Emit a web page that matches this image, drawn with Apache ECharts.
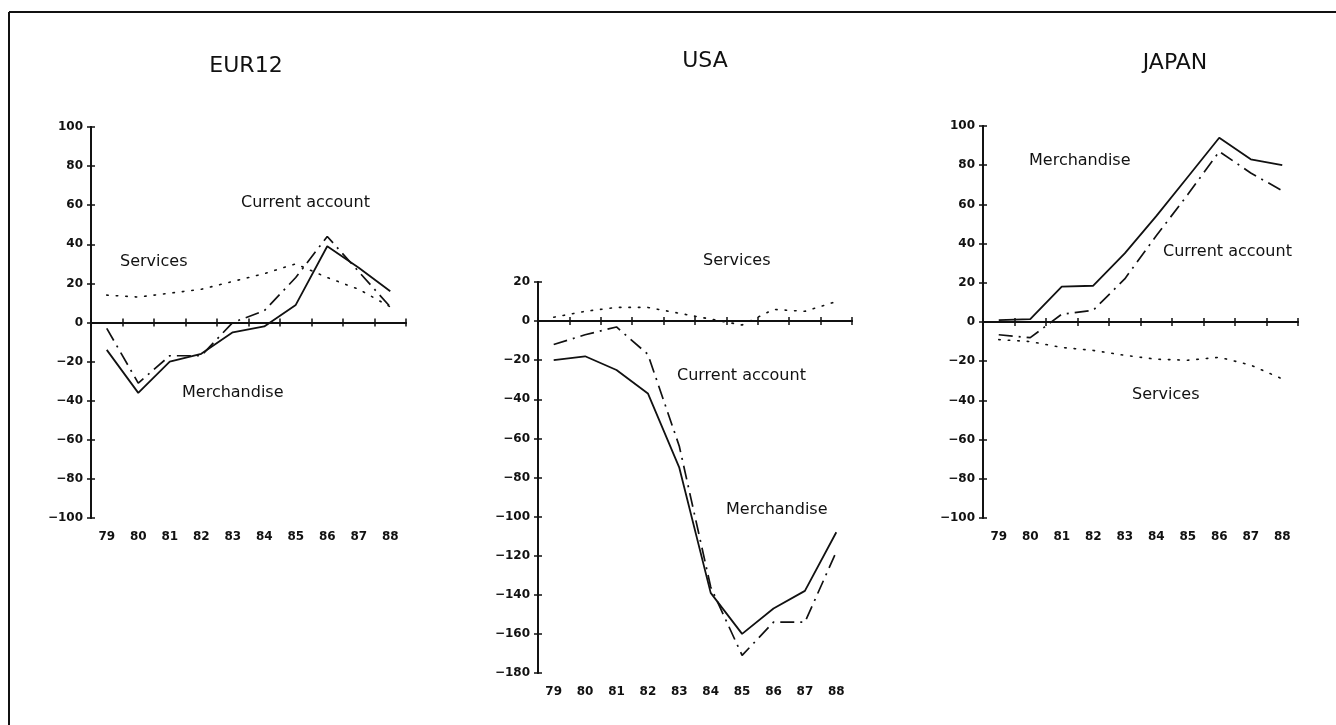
<!DOCTYPE html>
<html>
<head>
<meta charset="utf-8">
<script src="https://cdn.jsdelivr.net/npm/echarts@6/dist/echarts.min.js"></script>
<style>
html,body{margin:0;padding:0;background:#fff;}
#chart{width:1336px;height:725px;}
</style>
</head>
<body>
<div id="chart"></div>
<script>
// ---- data ----
const years = ['79','80','81','82','83','84','85','86','87','88'];

const eurMerchandise = [-14, -36, -20, -16, -5, -2, 9, 39, 28, 16];
const eurCurrent     = [-3, -31, -17, -17, 0, 6, 23, 44, 26, 8];
const eurServices    = [14, 13, 15, 17, 21, 25, 30, 23, 17, 8];

const usaMerchandise = [-20, -18, -25, -37, -75, -139, -160, -147, -138, -108];
const usaCurrent     = [-12, -7, -3, -17, -64, -136, -171, -154, -154, -118];
const usaServices    = [2, 5, 7, 7, 4, 1, -2, 6, 5, 10];

const jpnMerchandise = [1, 1.5, 18, 18.5, 35, 54, 74, 94, 83, 80];
const jpnCurrent     = [-6.5, -8, 4, 6, 22, 44, 65, 87, 76, 67];
const jpnServices    = [-9, -10, -13, -14.5, -17, -19, -19.5, -18, -22, -29];

const panelTitles = ['EUR12', 'USA', 'JAPAN'];
const eurTicks = {min: -100, max: 100, interval: 20};
const usaTicks = {min: -180, max: 20, interval: 20};
const jpnTicks = {min: -100, max: 100, interval: 20};

// ---- layout / styles ----
const FONT = '"DejaVu Sans", sans-serif';
const INK = '#111';
const grids = [
  {left: 91,  top: 127, width: 315, height: 391},
  {left: 538, top: 282, width: 314, height: 391},
  {left: 983, top: 126, width: 315, height: 392}
];
const scales = [eurTicks, usaTicks, jpnTicks];
const panels = [
  [eurMerchandise, eurCurrent, eurServices],
  [usaMerchandise, usaCurrent, usaServices],
  [jpnMerchandise, jpnCurrent, jpnServices]
];

const xAxes = [], yAxes = [], series = [];
const AXW = 1.8, TL = 4;
grids.forEach((g, i) => {
  const s = scales[i];
  xAxes.push({
    type: 'category', gridIndex: i, data: years, position: 'bottom',
    axisLine: {onZero: true, lineStyle: {color: INK, width: AXW}},
    axisTick: {show: true, inside: true, length: TL, lineStyle: {color: INK, width: 1.5}},
    axisLabel: {show: false}, splitLine: {show: false}
  });
  xAxes.push({
    type: 'category', gridIndex: i, data: years, position: 'bottom',
    axisLine: {onZero: true, lineStyle: {color: INK, width: AXW}},
    axisTick: {show: true, inside: false, length: TL, lineStyle: {color: INK, width: 1.5}},
    axisLabel: {show: false}, splitLine: {show: false}
  });
  xAxes.push({
    type: 'category', gridIndex: i, data: years, position: 'bottom',
    axisLine: {show: false, onZero: false}, axisTick: {show: false},
    axisLabel: {show: true, margin: 13, color: INK, fontFamily: FONT, fontSize: 12, fontWeight: 'bold'},
    splitLine: {show: false}
  });
  yAxes.push({
    type: 'value', gridIndex: i, position: 'left', min: s.min, max: s.max, interval: s.interval,
    axisLine: {show: true, onZero: false, lineStyle: {color: INK, width: AXW}},
    axisTick: {show: true, inside: false, length: TL, lineStyle: {color: INK, width: 1.5}},
    axisLabel: {show: true, margin: 8, color: INK, fontFamily: FONT, fontSize: 12, fontWeight: 'bold',
      formatter: v => (v < 0 ? '\u2212' + Math.abs(v) : String(v))},
    splitLine: {show: false}
  });
  yAxes.push({
    type: 'value', gridIndex: i, position: 'left', min: s.min, max: s.max, interval: s.interval,
    axisLine: {show: true, onZero: false, lineStyle: {color: INK, width: AXW}},
    axisTick: {show: true, inside: true, length: TL, lineStyle: {color: INK, width: 1.5}},
    axisLabel: {show: false}, splitLine: {show: false}
  });
  const [m, c, sv] = panels[i];
  const common = {type: 'line', xAxisIndex: i * 3, yAxisIndex: i * 2, symbol: 'none',
    silent: true, animation: false, z: 3};
  series.push(Object.assign({}, common, {name: 'Merchandise', data: m,
    lineStyle: {color: INK, width: 1.8, type: 'solid'}}));
  series.push(Object.assign({}, common, {name: 'Current account', data: c,
    lineStyle: {color: INK, width: 1.7, type: [14, 6, 2, 6]}}));
  series.push(Object.assign({}, common, {name: 'Services', data: sv,
    lineStyle: {color: INK, width: 1.6, type: [1.5, 8], cap: 'round'}}));
});

function label(text, left, top) {
  return {type: 'text', left: left, top: top, silent: true,
    style: {text: text, fill: INK, font: '16px ' + FONT}};
}

const option = {
  backgroundColor: '#ffffff',
  animation: false,
  title: [
    {text: panelTitles[0], left: 241, top: 50, textAlign: 'center',
      textStyle: {fontFamily: FONT, fontSize: 22, fontWeight: 'normal', color: INK}},
    {text: panelTitles[1], left: 700, top: 45, textAlign: 'center',
      textStyle: {fontFamily: FONT, fontSize: 22, fontWeight: 'normal', color: INK}},
    {text: panelTitles[2], left: 1170, top: 47, textAlign: 'center',
      textStyle: {fontFamily: FONT, fontSize: 22, fontWeight: 'normal', color: INK}}
  ],
  grid: grids,
  xAxis: xAxes,
  yAxis: yAxes,
  series: series,
  graphic: [
    {type: 'line', silent: true, shape: {x1: 9, y1: 12, x2: 9, y2: 725},
      style: {stroke: INK, lineWidth: 2}},
    {type: 'line', silent: true, shape: {x1: 9, y1: 12, x2: 1336, y2: 12},
      style: {stroke: INK, lineWidth: 2}},
    label('Current account', 241, 195),
    label('Services', 120, 254),
    label('Merchandise', 182, 385),
    label('Services', 703, 253),
    label('Current account', 677, 368),
    label('Merchandise', 726, 502),
    label('Merchandise', 1029, 153),
    label('Current account', 1163, 244),
    label('Services', 1132, 387)
  ]
};

const chart = echarts.init(document.getElementById('chart'), null, {renderer: 'canvas'});
chart.setOption(option);
</script>
</body>
</html>
